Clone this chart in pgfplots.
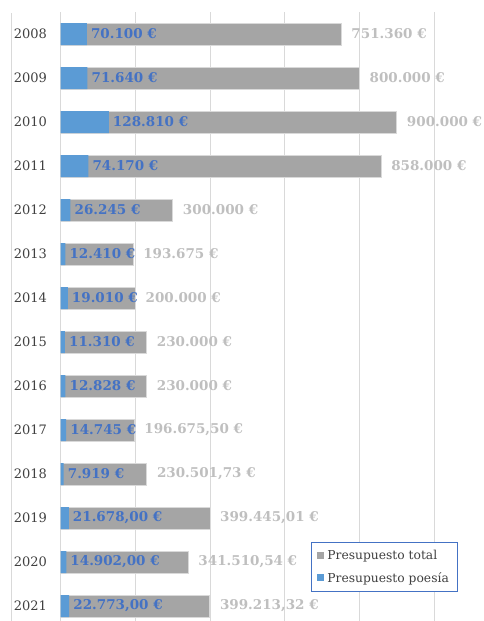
\documentclass[border=0pt]{standalone}
\usepackage{pgfplots}
\pgfplotsset{compat=1.18}
\usepackage{fontspec}
\setmainfont{DejaVu Serif}
\definecolor{gbar}{HTML}{A5A5A5}
\definecolor{bbar}{HTML}{5B9BD5}
\definecolor{blab}{HTML}{4472C4}
\definecolor{glab}{HTML}{BFBFBF}
\definecolor{gridc}{HTML}{D9D9D9}
\definecolor{ytxt}{HTML}{404040}
\begin{document}
\begin{tikzpicture}
\draw[gridc, line width=0.8pt] (11pt,-13pt) -- (11pt,-621pt);
\begin{axis}[
  at={(60.7pt,-12pt)}, anchor=north west,
  scale only axis, width=373.3pt, height=616pt,
  xbar, bar width=22pt, bar shift=0pt,
  xmin=0, xmax=1000000, ymin=-0.5, ymax=13.5, y dir=reverse,
  enlargelimits=false, clip=false,
  axis line style={draw=none},
  xmajorgrids, grid style={gridc, line width=0.8pt},
  xtick={0,200000,400000,600000,800000,1000000}, xticklabels={},
  scaled x ticks=false,
  ytick={0,...,13},
  yticklabels={2008,2009,2010,2011,2012,2013,2014,2015,2016,2017,2018,2019,2020,2021},
  yticklabel style={font=\fontsize{13}{15}\selectfont, text=ytxt, inner sep=0pt, xshift=-13.5pt},
  major tick length=0pt, tick style={draw=none},
  legend style={at={(0.6705,0.1396)}, anchor=north west, draw=blab, line width=0.8pt,
    font=\fontsize{12.3}{14}\selectfont, text=ytxt, inner xsep=6pt, inner ysep=6pt,
    row sep=7pt, cells={anchor=west}, nodes={inner xsep=3pt}},
  legend image code/.code={\fill[#1,draw=none] (0pt,-3.5pt) rectangle (7pt,3.5pt);},
]
\addplot[fill=gbar, draw=gridc, line width=0.6pt,
  nodes near coords, point meta=explicit symbolic,
  nodes near coords style={anchor=west, xshift=10pt, inner sep=0pt, text=glab,
    font=\bfseries\fontsize{13.5}{15}\selectfont}]
coordinates {
(751360,0) [751.360 €]
(800000,1) [800.000 €]
(900000,2) [900.000 €]
(858000,3) [858.000 €]
(300000,4) [300.000 €]
(193675,5) [193.675 €]
(200000,6) [200.000 €]
(230000,7) [230.000 €]
(230000,8) [230.000 €]
(196675.50,9) [196.675,50 €]
(230501.73,10) [230.501,73 €]
(399445.01,11) [399.445,01 €]
(341510.54,12) [341.510,54 €]
(399213.32,13) [399.213,32 €]
};
\addlegendentry{Presupuesto total}
\addplot[fill=bbar, draw=none,
  nodes near coords, point meta=explicit symbolic,
  nodes near coords style={anchor=west, xshift=4pt, inner sep=0pt, text=blab,
    font=\bfseries\fontsize{13.5}{15}\selectfont}]
coordinates {
(70100,0) [70.100 €]
(71640,1) [71.640 €]
(128810,2) [128.810 €]
(74170,3) [74.170 €]
(26245,4) [26.245 €]
(12410,5) [12.410 €]
(19010,6) [19.010 €]
(11310,7) [11.310 €]
(12828,8) [12.828 €]
(14745,9) [14.745 €]
(7919,10) [7.919 €]
(21678,11) [21.678,00 €]
(14902,12) [14.902,00 €]
(22773,13) [22.773,00 €]
};
\addlegendentry{Presupuesto poesía}
\end{axis}
\pgfresetboundingbox
\path[use as bounding box] (0,0) rectangle (484pt,-621pt);
\end{tikzpicture}
\end{document}
